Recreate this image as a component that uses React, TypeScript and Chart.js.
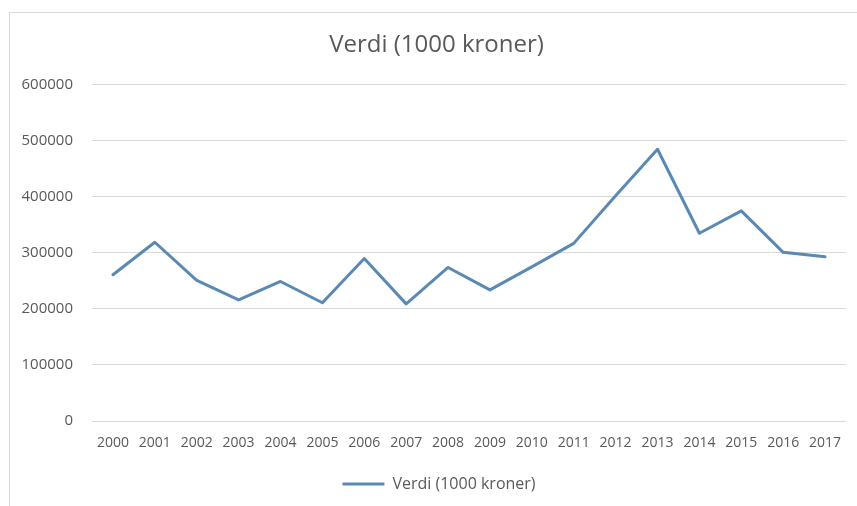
import React, { useEffect, useRef } from "react";
import { Chart, registerables } from "chart.js";

Chart.register(...registerables);

const years: string[] = [
  "2000", "2001", "2002", "2003", "2004", "2005", "2006", "2007", "2008",
  "2009", "2010", "2011", "2012", "2013", "2014", "2015", "2016", "2017",
];
const verdi: number[] = [
  261000, 319000, 251000, 216000, 249000, 211000, 290000, 209000, 274000,
  234000, 275000, 317000, 402000, 485000, 335000, 375000, 301000, 293000,
];
const seriesLabel = "Verdi (1000 kroner)";
const chartTitle = "Verdi (1000 kroner)";
const yMin = 0;
const yMax = 600000;
const yStep = 100000;

const FONT = "'Open Sans', 'Noto Sans', sans-serif";
const TEXT = "#595959";
const LINE = "#5a8ab4";

// shifts the title and legend boxes so that their centres match the reference
const centreShift = {
  id: "centreShift",
  afterLayout(chart: any) {
    if (chart.titleBlock) chart.titleBlock.left += 27;
    if (chart.legend) chart.legend.left += 32;
  },
};

export default function App() {
  const ref = useRef<HTMLCanvasElement | null>(null);
  useEffect(() => {
    if (!ref.current) return;
    const chart = new Chart(ref.current, {
      type: "line",
      data: {
        labels: years,
        datasets: [
          {
            label: seriesLabel,
            data: verdi,
            borderColor: LINE,
            backgroundColor: LINE,
            borderWidth: 3,
            tension: 0,
            pointRadius: 0,
            pointHoverRadius: 0,
            borderJoinStyle: "round",
            borderCapStyle: "round",
          },
        ],
      },
      plugins: [centreShift],
      options: {
        responsive: false,
        animation: false,
        devicePixelRatio: 1,
        layout: { padding: { left: 0, right: 11, top: 0, bottom: 4 } },
        plugins: {
          title: {
            display: true,
            text: chartTitle,
            color: TEXT,
            font: { family: FONT, size: 24, weight: "normal" },
            padding: { top: 31, bottom: 25 },
          },
          legend: {
            display: true,
            position: "bottom",
            labels: {
              color: TEXT,
              font: { family: FONT, size: 16 },
              boxWidth: 42,
              boxHeight: 3,
              padding: 20,
              generateLabels: (c: any) =>
                Chart.defaults.plugins.legend.labels
                  .generateLabels(c)
                  .map((l: any) => ({ ...l, lineWidth: 0 })),
            },
          },
          tooltip: { enabled: false },
        },
        scales: {
          x: {
            offset: true,
            grid: { display: false, drawTicks: false },
            border: { display: false },
            afterFit: (s: any) => {
              s.height = 35;
            },
            ticks: {
              color: TEXT,
              font: { family: FONT, size: 14 },
              padding: 14,
              maxRotation: 0,
              autoSkip: false,
            },
          },
          y: {
            min: yMin,
            max: yMax,
            grid: { color: "#d9d9d9", lineWidth: 1, drawTicks: false },
            border: { display: false },
            afterFit: (s: any) => {
              s.width = 92;
            },
            ticks: {
              stepSize: yStep,
              color: TEXT,
              font: { family: FONT, size: 15 },
              padding: 19,
              callback: (v: any) => String(v),
            },
          },
        },
      },
    });
    return () => chart.destroy();
  }, []);

  return (
    <div>
      <div
        style={{
          position: "fixed",
          left: 9,
          top: 12,
          width: 900,
          height: 600,
          border: "1px solid #d9d9d9",
          boxSizing: "border-box",
          background: "#fff",
        }}
      />
      <canvas
        ref={ref}
        width={857}
        height={506}
        style={{ position: "fixed", left: 0, top: 0, width: 857, height: 506 }}
      />
    </div>
  );
}
